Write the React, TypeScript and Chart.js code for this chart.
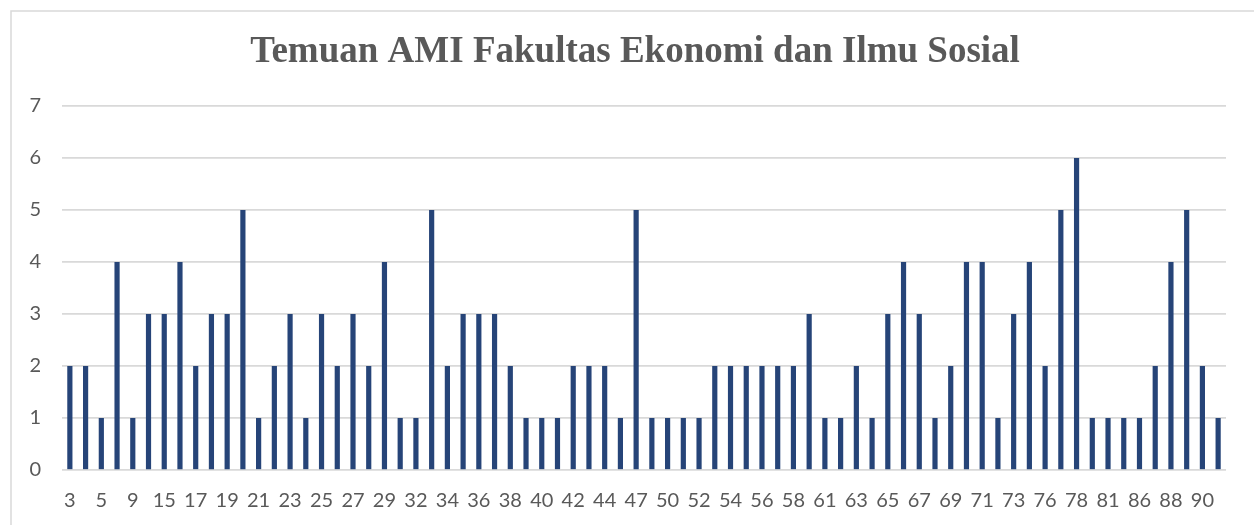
import React, { useEffect, useRef } from "react";
import { Chart, registerables } from "chart.js";

Chart.register(...registerables);

const chartTitle = "Temuan AMI Fakultas Ekonomi dan Ilmu Sosial";

const categories: string[] = [
  "3", "4", "5", "7", "9", "12", "15", "16", "17", "18",
  "19", "20", "21", "22", "23", "24", "25", "26", "27", "28",
  "29", "30", "32", "33", "34", "35", "36", "37", "38", "39",
  "40", "41", "42", "43", "44", "45", "47", "48", "50", "51",
  "52", "53", "54", "55", "56", "57", "58", "59", "61", "62",
  "63", "64", "65", "66", "67", "68", "69", "70", "71", "72",
  "73", "74", "76", "77", "78", "79", "81", "83", "86", "87",
  "88", "89", "90", "91",
];

const findings: number[] = [
  2, 2, 1, 4, 1, 3, 3, 4, 2, 3,
  3, 5, 1, 2, 3, 1, 3, 2, 3, 2,
  4, 1, 1, 5, 2, 3, 3, 3, 2, 1,
  1, 1, 2, 2, 2, 1, 5, 1, 1, 1,
  1, 2, 2, 2, 2, 2, 2, 3, 1, 1,
  2, 1, 3, 4, 3, 1, 2, 4, 4, 1,
  3, 4, 2, 5, 6, 1, 1, 1, 1, 2,
  4, 5, 2, 1,
];

const yMin = 0;
const yMax = 7;
const yStep = 1;

const tickFont = { family: "Lato, 'Open Sans', sans-serif", size: 20 };
const textColor = "#595959";
const gridColor = "#d9d9d9";
const barColor = "#264478";

const frameTitlePlugin = {
  id: "frameTitle",
  beforeDraw(chart: any) {
    const ctx = chart.ctx;
    ctx.save();
    ctx.fillStyle = "#ffffff";
    ctx.fillRect(0, 0, chart.width, chart.height);
    ctx.strokeStyle = gridColor;
    ctx.lineWidth = 1.5;
    ctx.strokeRect(11, 11, chart.width + 100, chart.height + 100);
    ctx.restore();
  },
  afterDraw(chart: any) {
    const ctx = chart.ctx;
    ctx.save();
    ctx.fillStyle = textColor;
    ctx.font = "bold 37px 'Liberation Serif', 'Times New Roman', serif";
    ctx.textAlign = "center";
    ctx.textBaseline = "alphabetic";
    ctx.fillText(chartTitle, 635, 62);
    ctx.restore();
  },
};

export default function App() {
  const ref = useRef<HTMLCanvasElement | null>(null);

  useEffect(() => {
    if (!ref.current) return;
    const chart = new Chart(ref.current, {
      type: "bar",
      data: {
        labels: categories,
        datasets: [
          {
            label: "Temuan",
            data: findings,
            backgroundColor: barColor,
            borderWidth: 0,
            barPercentage: 0.33,
            categoryPercentage: 1,
          },
        ],
      },
      options: {
        responsive: false,
        animation: false,
        devicePixelRatio: 1,
        layout: { padding: { left: 0, right: 28, top: 106, bottom: 0 } },
        plugins: {
          legend: { display: false },
          tooltip: { enabled: false },
          title: { display: false },
        },
        scales: {
          x: {
            grid: { display: false, drawTicks: false },
            border: { display: false },
            ticks: {
              autoSkip: false,
              maxRotation: 0,
              minRotation: 0,
              padding: 19,
              color: textColor,
              font: tickFont,
              callback: (_v: any, i: number) => (i % 2 === 0 ? categories[i] : ""),
            },
            afterFit: (s: any) => {
              s.height = 55;
            },
          },
          y: {
            min: yMin,
            max: yMax,
            grid: { color: gridColor, lineWidth: 1.7, drawTicks: false },
            border: { display: false },
            ticks: {
              stepSize: yStep,
              padding: 21,
              color: textColor,
              font: tickFont,
            },
            afterFit: (s: any) => {
              s.width = 62;
            },
          },
        },
      },
      plugins: [frameTitlePlugin],
    });
    return () => chart.destroy();
  }, []);

  return (
    <div style={{ position: "fixed", left: 0, top: 0, width: 1254, height: 525, overflow: "hidden", background: "#fff" }}>
      <canvas ref={ref} width={1254} height={525} style={{ display: "block" }} />
    </div>
  );
}
